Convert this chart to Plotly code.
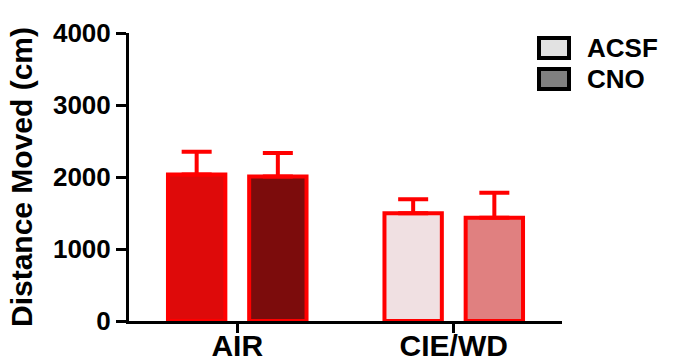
import plotly.graph_objects as go

categories = ["AIR", "CIE/WD"]
series_names = ["ACSF", "CNO"]
acsf_mean = [2035, 1496]
cno_mean = [2007, 1433]
acsf_sem = [316, 194]
cno_sem = [326, 349]
y_ticks = [0, 1000, 2000, 3000, 4000]

acsf_fill = ["#de0a0a", "#f0e0e2"]
cno_fill = ["#7c0c0c", "#e08080"]
legend_fill = ["#e2e2e2", "#808080"]
RED = "#ff0000"
FONT = "Liberation Sans, Arial, sans-serif"

fig = go.Figure()
for name, mean, sem, fill, off in [
    ("ACSF", acsf_mean, acsf_sem, acsf_fill, -0.32),
    ("CNO", cno_mean, cno_sem, cno_fill, 0.055),
]:
    fig.add_trace(go.Bar(
        x=categories, y=mean, name=name,
        width=0.265, offset=off,
        marker=dict(color=fill, line=dict(color=RED, width=4)),
        error_y=dict(type="data", array=sem, arrayminus=[0] * len(sem),
                     symmetric=False, color=RED, thickness=4, width=15),
        showlegend=False,
    ))

# legend drawn manually (large square swatches as in the reference)
L, R, T, B = 129, 113, 33, 41
W, H = 675 - L - R, 362 - T - B
def px(xp): return (xp - L) / W
def py(yp): return 1 - (yp - T) / H
shapes = []
annotations = []
for i, (nm, col) in enumerate(zip(series_names, legend_fill)):
    y0 = 38 + i * 31
    shapes.append(dict(type="rect", xref="paper", yref="paper",
                       x0=px(539), x1=px(569), y0=py(y0 + 20), y1=py(y0),
                       fillcolor=col, line=dict(color="black", width=4)))
    annotations.append(dict(xref="paper", yref="paper", x=px(585), y=py(y0 + 10),
                            text=nm, showarrow=False, xanchor="left", yanchor="middle",
                            font=dict(family=FONT, size=26, color="black", weight="bold")))

fig.update_layout(
    width=675, height=362,
    margin=dict(l=L, r=R, t=T, b=B, autoexpand=False),
    paper_bgcolor="white", plot_bgcolor="white",
    shapes=shapes, annotations=annotations,
    showlegend=False,
    xaxis=dict(
        type="category", range=[-0.5, 1.5], automargin=False,
        showline=True, linecolor="black", linewidth=3,
        ticks="outside", ticklen=9, tickwidth=3, tickcolor="black",
        ticklabelstandoff=-13,
        tickfont=dict(family=FONT, size=30, color="black", weight="bold"),
        showgrid=False, zeroline=False,
    ),
    yaxis=dict(
        range=[0, 4000], tickvals=y_ticks, automargin=False,
        showline=True, linecolor="black", linewidth=3,
        ticks="outside", ticklen=10, tickwidth=3, tickcolor="black",
        tickfont=dict(family=FONT, size=26, color="black", weight="bold"),
        showgrid=False, zeroline=False,
        title=dict(text="Distance Moved (cm)", standoff=12,
                   font=dict(family=FONT, size=30, color="black", weight="bold")),
    ),
)

fig.write_html("out.html")
